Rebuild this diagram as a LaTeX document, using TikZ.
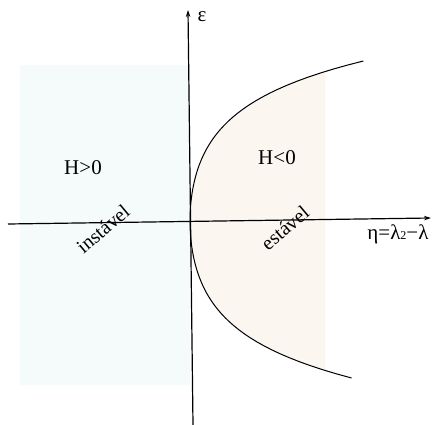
\documentclass[tikz,border=0pt]{standalone}
\usepackage{fontspec}
\setmainfont{Liberation Serif}
\usetikzlibrary{arrows.meta}
\definecolor{cyanbg}{RGB}{245,251,250}
\definecolor{peachbg}{RGB}{252,246,240}
\begin{document}
\begin{tikzpicture}[x=1pt,y=-1pt,
  axis/.style={line width=1.2pt,-{Stealth[length=7pt,width=4.5pt]}},
  curve/.style={line width=1pt},
  lbl/.style={font=\fontsize{21}{22}\selectfont,inner sep=0pt},
  rlbl/.style={font=\fontsize{20}{21}\selectfont,inner sep=0pt,rotate=40}]
\useasboundingbox (0,0) rectangle (439,425);
\fill[white] (0,0) rectangle (439,425);
% background shading
\fill[cyanbg] (20,65) rectangle (190,385);
\begin{scope}
\clip (190,0) rectangle (325,425);
\fill[peachbg] plot[domain=-157:160,samples=80,variable=\t] ({190+10.5*(cosh(\t/45)-1)},{221-\t}) -- cycle;
\end{scope}
% axes
\coordinate (xs) at (8,224);
\coordinate (xe) at (431,218);
\coordinate (ys) at (193,425);
\coordinate (ye) at (188,10);
\draw[axis] (xs) -- (xe);
\draw[axis] (ys) -- (ye);
% curve
\draw[curve] plot[domain=-157:160,samples=80,variable=\t] ({190+10.5*(cosh(\t/45)-1)},{221-\t});
% labels
\node[lbl] (eps) at (202,17) {ε};
\node[lbl] (eta) at (398,234) {η=λ\raisebox{-0.5pt}{\fontsize{12}{12}\selectfont 2}−λ};
\node[lbl] (hpos) at (83,168) {H>0};
\node[lbl] (hneg) at (277,158) {H<0};
\node[rlbl] (inst) at (103,229) {instável};
\node[rlbl] (est) at (285,228) {estável};
\end{tikzpicture}
\end{document}
